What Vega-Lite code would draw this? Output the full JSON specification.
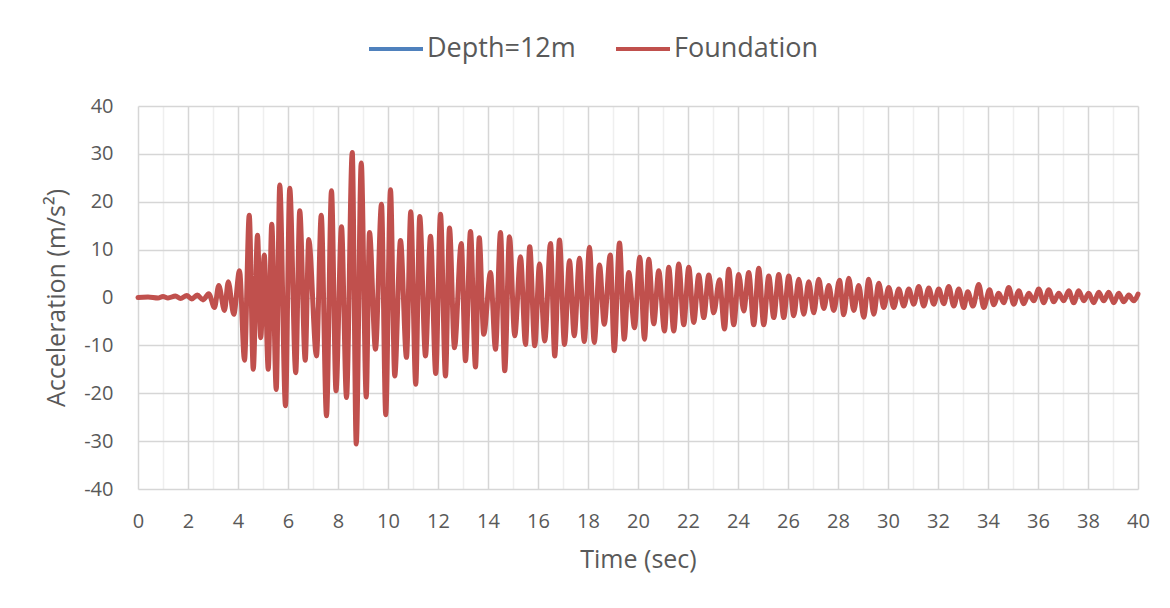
{
  "$schema": "https://vega.github.io/schema/vega-lite/v6.json",
  "width": 1000,
  "height": 383,
  "autosize": {"type": "none"},
  "padding": {"left": 138, "top": 106, "right": 32, "bottom": 119},
  "background": "white",
  "config": {"font": "Open Sans", "view": {"stroke": null}},
  "data": {"values": [
    {"t":0,"F":0,"D":0},{"t":0.4,"F":0.1,"D":0},{"t":0.8,"F":-0.1,"D":-0.1},{"t":1.0,"F":0.2,"D":0.1},{"t":1.2,"F":-0.1,"D":-0.1},
    {"t":1.5,"F":0.3,"D":0.2},{"t":1.7,"F":-0.2,"D":-0.2},{"t":1.95,"F":0.4,"D":0.3},{"t":2.15,"F":-0.3,"D":-0.3},{"t":2.37,"F":0.5,"D":0.3},
    {"t":2.6,"F":-0.5,"D":-0.6},{"t":2.83,"F":0.8,"D":0.2},{"t":3.06,"F":-2.1,"D":-1.0},{"t":3.23,"F":2.5,"D":0.8},{"t":3.46,"F":-2.7,"D":-1.2},
    {"t":3.61,"F":3.3,"D":1.0},{"t":3.83,"F":-3.5,"D":-1.5},{"t":4.06,"F":5.6,"D":1.8},{"t":4.26,"F":-13.1,"D":-4.8},{"t":4.45,"F":17.2,"D":4.5},
    {"t":4.61,"F":-15.0,"D":-4.2},{"t":4.78,"F":13.0,"D":3.8},{"t":4.91,"F":-8.4,"D":-2.5},{"t":5.05,"F":8.9,"D":3.0},{"t":5.21,"F":-15.0,"D":-4.0},
    {"t":5.35,"F":15.3,"D":4.2},{"t":5.53,"F":-19.2,"D":-5.2},{"t":5.67,"F":23.5,"D":6.0},{"t":5.9,"F":-22.6,"D":-6.2},{"t":6.07,"F":22.8,"D":6.1},
    {"t":6.31,"F":-15.7,"D":-4.5},{"t":6.47,"F":18.1,"D":5.0},{"t":6.69,"F":-13.1,"D":-3.8},{"t":6.83,"F":12.1,"D":3.5},{"t":7.14,"F":-12.2,"D":-3.6},
    {"t":7.33,"F":17.2,"D":4.8},{"t":7.54,"F":-24.7,"D":-6.5},{"t":7.74,"F":22.3,"D":6.0},{"t":7.92,"F":-19.5,"D":-5.4},{"t":8.14,"F":14.8,"D":4.2},
    {"t":8.34,"F":-20.9,"D":-5.6},{"t":8.57,"F":30.3,"D":7.8},{"t":8.73,"F":-30.6,"D":-7.9},{"t":8.93,"F":28.1,"D":7.4},{"t":9.13,"F":-20.8,"D":-5.6},
    {"t":9.26,"F":13.6,"D":3.8},{"t":9.5,"F":-10.8,"D":-3.2},{"t":9.74,"F":19.5,"D":5.3},{"t":9.91,"F":-24.5,"D":-6.4},{"t":10.1,"F":22.5,"D":6.0},
    {"t":10.27,"F":-16.4,"D":-4.5},{"t":10.5,"F":11.9,"D":3.4},{"t":10.74,"F":-12.5,"D":-3.5},{"t":10.91,"F":17.9,"D":4.9},{"t":11.11,"F":-18.1,"D":-4.9},
    {"t":11.27,"F":16.9,"D":4.6},{"t":11.5,"F":-12.2,"D":-3.4},{"t":11.7,"F":12.8,"D":3.6},{"t":11.91,"F":-15.9,"D":-4.3},{"t":12.1,"F":17.4,"D":4.7},
    {"t":12.3,"F":-16.4,"D":-4.5},{"t":12.46,"F":14.5,"D":4.0},{"t":12.66,"F":-10.5,"D":-3.0},{"t":12.93,"F":11.3,"D":3.2},{"t":13.1,"F":-13.2,"D":-3.6},
    {"t":13.3,"F":13.8,"D":3.8},{"t":13.5,"F":-14.5,"D":-3.9},{"t":13.65,"F":12.5,"D":3.4},{"t":13.83,"F":-7.7,"D":-2.2},{"t":14.1,"F":5.2,"D":1.6},
    {"t":14.3,"F":-10.8,"D":-3.0},{"t":14.5,"F":13.6,"D":3.7},{"t":14.67,"F":-15.3,"D":-4.1},{"t":14.86,"F":12.7,"D":3.5},{"t":15.07,"F":-8.0,"D":-2.3},
    {"t":15.3,"F":8.5,"D":2.4},{"t":15.5,"F":-9.8,"D":-2.7},{"t":15.67,"F":10.6,"D":2.9},{"t":15.87,"F":-10.1,"D":-2.8},{"t":16.06,"F":7.0,"D":2.0},
    {"t":16.27,"F":-9.1,"D":-2.5},{"t":16.5,"F":11.3,"D":3.1},{"t":16.67,"F":-12.2,"D":-3.3},{"t":16.86,"F":12.0,"D":3.3},{"t":17.06,"F":-9.8,"D":-2.7},
    {"t":17.26,"F":7.7,"D":2.2},{"t":17.45,"F":-8.0,"D":-2.2},{"t":17.66,"F":8.2,"D":2.3},{"t":17.85,"F":-9.2,"D":-2.5},{"t":18.06,"F":10.5,"D":2.9},
    {"t":18.25,"F":-9.4,"D":-2.6},{"t":18.46,"F":6.8,"D":1.9},{"t":18.65,"F":-5.6,"D":-1.6},{"t":18.89,"F":8.9,"D":2.5},{"t":19.05,"F":-11.1,"D":-3.0},
    {"t":19.26,"F":11.4,"D":3.1},{"t":19.45,"F":-8.7,"D":-2.4},{"t":19.63,"F":5.2,"D":1.5},{"t":19.86,"F":-6.3,"D":-1.8},{"t":20.07,"F":8.4,"D":2.3},
    {"t":20.26,"F":-8.7,"D":-2.4},{"t":20.43,"F":8.0,"D":2.2},{"t":20.63,"F":-5.5,"D":-1.6},{"t":20.83,"F":5.6,"D":1.6},{"t":21.06,"F":-7.0,"D":-1.9},
    {"t":21.23,"F":6.3,"D":1.8},{"t":21.43,"F":-7.0,"D":-1.9},{"t":21.63,"F":7.0,"D":1.9},{"t":21.83,"F":-5.7,"D":-1.6},{"t":22.03,"F":6.3,"D":1.8},
    {"t":22.23,"F":-5.2,"D":-1.5},{"t":22.43,"F":4.7,"D":1.3},{"t":22.63,"F":-4.2,"D":-1.2},{"t":22.83,"F":4.7,"D":1.3},{"t":23.03,"F":-3.2,"D":-0.9},
    {"t":23.26,"F":3.7,"D":1.0},{"t":23.46,"F":-6.6,"D":-1.8},{"t":23.63,"F":5.9,"D":1.6},{"t":23.83,"F":-5.7,"D":-1.6},{"t":24.03,"F":4.8,"D":1.3},
    {"t":24.23,"F":-2.8,"D":-0.8},{"t":24.43,"F":5.2,"D":1.4},{"t":24.63,"F":-5.7,"D":-1.6},{"t":24.83,"F":6.1,"D":1.7},{"t":25.03,"F":-5.7,"D":-1.6},
    {"t":25.23,"F":4.5,"D":1.2},{"t":25.43,"F":-4.2,"D":-1.2},{"t":25.63,"F":4.8,"D":1.3},{"t":25.83,"F":-4.2,"D":-1.2},{"t":26.03,"F":4.5,"D":1.2},
    {"t":26.23,"F":-3.8,"D":-1.1},{"t":26.43,"F":3.8,"D":1.0},{"t":26.63,"F":-3.5,"D":-1.0},{"t":26.83,"F":3.3,"D":0.9},{"t":27.03,"F":-3.2,"D":-0.9},
    {"t":27.23,"F":3.8,"D":1.0},{"t":27.43,"F":-2.3,"D":-0.7},{"t":27.63,"F":2.5,"D":0.7},{"t":27.83,"F":-2.7,"D":-0.8},{"t":28.06,"F":3.6,"D":1.0},
    {"t":28.23,"F":-3.6,"D":-1.0},{"t":28.43,"F":4.0,"D":1.1},{"t":28.63,"F":-2.7,"D":-0.8},{"t":28.83,"F":2.5,"D":0.7},{"t":29.03,"F":-4.1,"D":-1.1},
    {"t":29.23,"F":3.8,"D":1.0},{"t":29.43,"F":-3.5,"D":-1.0},{"t":29.63,"F":3.0,"D":0.8},{"t":29.83,"F":-2.1,"D":-0.6},{"t":30.03,"F":2.1,"D":0.6},
    {"t":30.23,"F":-2.1,"D":-0.6},{"t":30.43,"F":1.8,"D":0.5},{"t":30.63,"F":-1.8,"D":-0.5},{"t":30.83,"F":1.8,"D":0.5},{"t":31.03,"F":-1.4,"D":-0.4},
    {"t":31.23,"F":2.3,"D":0.6},{"t":31.43,"F":-1.8,"D":-0.5},{"t":31.63,"F":2.0,"D":0.6},{"t":31.83,"F":-1.4,"D":-0.4},{"t":32.03,"F":1.8,"D":0.5},
    {"t":32.23,"F":-1.3,"D":-0.4},{"t":32.43,"F":2.3,"D":0.6},{"t":32.63,"F":-1.8,"D":-0.5},{"t":32.83,"F":1.8,"D":0.5},{"t":33.03,"F":-2.1,"D":-0.6},
    {"t":33.19,"F":1.2,"D":0.3},{"t":33.4,"F":-1.8,"D":-0.5},{"t":33.63,"F":2.7,"D":0.7},{"t":33.83,"F":-2.1,"D":-0.6},{"t":34.06,"F":1.6,"D":0.4},
    {"t":34.23,"F":-1.5,"D":-0.4},{"t":34.43,"F":0.9,"D":0.3},{"t":34.63,"F":-1.1,"D":-0.3},{"t":34.83,"F":2.1,"D":0.6},{"t":35.03,"F":-1.4,"D":-0.4},
    {"t":35.23,"F":1.4,"D":0.4},{"t":35.43,"F":-1.3,"D":-0.4},{"t":35.63,"F":0.9,"D":0.3},{"t":35.83,"F":-0.7,"D":-0.2},{"t":36.03,"F":1.8,"D":0.5},
    {"t":36.23,"F":-1.1,"D":-0.3},{"t":36.43,"F":1.6,"D":0.4},{"t":36.63,"F":-0.9,"D":-0.3},{"t":36.83,"F":0.9,"D":0.3},{"t":37.03,"F":-0.7,"D":-0.2},
    {"t":37.23,"F":1.4,"D":0.4},{"t":37.43,"F":-1.1,"D":-0.3},{"t":37.63,"F":1.4,"D":0.4},{"t":37.83,"F":-0.7,"D":-0.2},{"t":38.03,"F":0.9,"D":0.3},
    {"t":38.23,"F":-1.1,"D":-0.3},{"t":38.43,"F":1.1,"D":0.3},{"t":38.63,"F":-0.7,"D":-0.2},{"t":38.83,"F":1.1,"D":0.3},{"t":39.03,"F":-1.1,"D":-0.3},
    {"t":39.23,"F":0.9,"D":0.3},{"t":39.43,"F":-0.9,"D":-0.3},{"t":39.63,"F":0.5,"D":0.2},{"t":39.83,"F":-0.7,"D":-0.2},{"t":40.0,"F":0.7,"D":0.2}
  ]},
  "encoding": {
    "x": {
      "field": "t", "type": "quantitative",
      "scale": {"domain": [0, 40], "nice": false, "zero": false},
      "axis": {
        "values": [0,1,2,3,4,5,6,7,8,9,10,11,12,13,14,15,16,17,18,19,20,21,22,23,24,25,26,27,28,29,30,31,32,33,34,35,36,37,38,39,40],
        "labelExpr": "datum.value % 2 == 0 ? '' + datum.value : ''",
        "domain": false, "ticks": false, "tickSize": 0,
        "grid": true,
        "gridColor": {"condition": {"test": "datum.value % 2 == 0", "value": "#d6d6d6"}, "value": "#efefef"},
        "gridWidth": 1.5,
        "labelFontSize": 20, "labelColor": "#595959", "labelPadding": 22,
        "labelFlush": false, "labelOverlap": false,
        "title": "Time (sec)", "titleFontSize": 25, "titleFontWeight": "normal", "titleColor": "#595959", "titlePadding": 16
      }
    }
  },
  "layer": [
    {
      "mark": {"type": "line", "interpolate": "monotone", "strokeWidth": 2, "strokeJoin": "round", "strokeCap": "round"},
      "encoding": {
        "y": {
          "field": "D", "type": "quantitative",
          "scale": {"domain": [-40, 40], "nice": false},
          "axis": {
            "values": [-40,-35,-30,-25,-20,-15,-10,-5,0,5,10,15,20,25,30,35,40],
            "labelExpr": "datum.value % 10 == 0 ? '' + datum.value : ''",
            "domain": false, "ticks": false, "tickSize": 0,
            "grid": true,
            "gridColor": {"condition": {"test": "datum.value % 10 == 0", "value": "#d6d6d6"}, "value": "#efefef"},
            "gridWidth": 1.5,
            "labelFontSize": 20, "labelColor": "#595959", "labelPadding": 25,
            "labelFlush": false, "labelOverlap": false,
            "title": "Acceleration (m/s²)", "titleFontSize": 25, "titleFontWeight": "normal", "titleColor": "#595959", "titlePadding": 14
          }
        },
        "color": {
          "datum": "Depth=12m", "type": "nominal",
          "scale": {"domain": ["Depth=12m", "Foundation"], "range": ["#4F81BD", "#C0504D"]},
          "legend": {
            "title": null, "orient": "none", "direction": "horizontal",
            "legendX": 229, "legendY": -86,
            "symbolType": "stroke", "symbolSize": 2916, "symbolStrokeWidth": 4,
            "labelFontSize": 27, "labelColor": "#595959", "labelOffset": 2, "labelLimit": 400,
            "columnPadding": 32
          }
        }
      }
    },
    {
      "mark": {"type": "line", "interpolate": "monotone", "strokeWidth": 5, "strokeJoin": "round", "strokeCap": "round"},
      "encoding": {
        "y": {"field": "F", "type": "quantitative", "title": "Acceleration (m/s²)"},
        "color": {"datum": "Foundation", "type": "nominal"}
      }
    }
  ]
}
